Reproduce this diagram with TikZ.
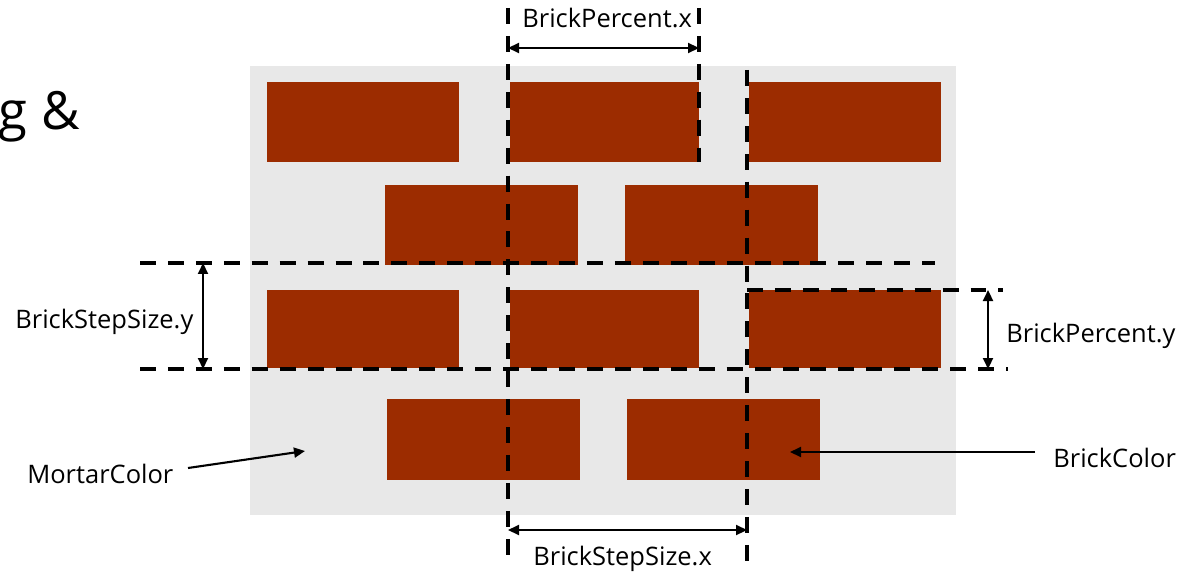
\documentclass[tikz,border=0pt]{standalone}
\usepackage{fontspec}
\setmainfont{Open Sans}
\usetikzlibrary{arrows.meta}
\definecolor{brick}{HTML}{9C2C00}
\definecolor{mortar}{HTML}{E8E8E8}
\begin{document}
\begin{tikzpicture}[x=0.02cm,y=-0.02cm,
  brickbox/.style={fill=brick},
  guide/.style={line width=2.1pt,dash pattern=on 9.1pt off 6.8pt},
  dim/.style={line width=1.2pt,{Triangle[length=2.2mm,width=2mm]}-{Triangle[length=2.2mm,width=2mm]}},
  pointer/.style={line width=1.2pt,-{Triangle[length=2.2mm,width=2mm]}},
  lbl/.style={font=\fontsize{14.5}{17}\selectfont,inner sep=0pt,anchor=base west}]
\path[use as bounding box] (0,0) rectangle (1185,574);
% partial title text
\node[font=\fontsize{30}{36}\selectfont,inner sep=0pt,anchor=base east] (title) at (80,130) {g \&};
% mortar
\fill[mortar] (250,66) rectangle (956,515);
% bricks
\fill[brickbox] (267,82) rectangle (459,162);
\fill[brickbox] (510,82) rectangle (699,162);
\fill[brickbox] (749,82) rectangle (941,162);
\fill[brickbox] (385,185) rectangle (578,265);
\fill[brickbox] (625,185) rectangle (818,265);
\fill[brickbox] (267,290) rectangle (459,368);
\fill[brickbox] (510,290) rectangle (699,368);
\fill[brickbox] (749,290) rectangle (941,368);
\fill[brickbox] (387,399) rectangle (580,480);
\fill[brickbox] (627,399) rectangle (820,480);
% guide coordinates
\coordinate (v1t) at (508,8);
\coordinate (v1b) at (508,566);
\coordinate (v2t) at (699,8);
\coordinate (v2b) at (699,162);
\coordinate (v3t) at (747,70);
\coordinate (v3b) at (747,566);
\coordinate (h1l) at (140,263);
\coordinate (h1r) at (935,263);
\coordinate (h2l) at (140,369);
\coordinate (h2r) at (1008,369);
\coordinate (h3l) at (747,290);
\coordinate (h3r) at (1003,290);
\draw[guide] (v1t) -- (v1b);
\draw[guide] (v2t) -- (v2b);
\draw[guide] (v3t) -- (v3b);
\draw[guide] (h1l) -- (h1r);
\draw[guide] (h2l) -- (h2r);
\draw[guide] (h3l) -- (h3r);
% dimension arrows
\coordinate (px1) at (508,48);
\coordinate (px2) at (699,48);
\coordinate (sy1) at (203,263);
\coordinate (sy2) at (203,369);
\coordinate (py1) at (988,290);
\coordinate (py2) at (988,369);
\coordinate (sx1) at (508,530);
\coordinate (sx2) at (747,530);
\draw[dim] (px1) -- (px2);
\draw[dim] (sy1) -- (sy2);
\draw[dim] (py1) -- (py2);
\draw[dim] (sx1) -- (sx2);
% labels
\node[lbl] (lpx) at (522,28) {BrickPercent.x};
\node[lbl] (lsy) at (15,328) {BrickStepSize.y};
\node[lbl] (lpy) at (1006,342) {BrickPercent.y};
\node[lbl] (lmc) at (27,483) {MortarColor};
\node[lbl] (lbc) at (1053,467) {BrickColor};
\node[lbl] (lsx) at (533,565) {BrickStepSize.x};
% pointers
\coordinate (mcs) at (188,468);
\coordinate (mce) at (305,451);
\coordinate (bcs) at (1035,452);
\coordinate (bce) at (790,452);
\draw[pointer] (mcs) -- (mce);
\draw[pointer] (bcs) -- (bce);
\end{tikzpicture}
\end{document}
